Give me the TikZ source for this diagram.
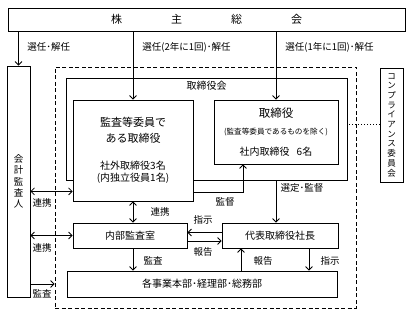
\documentclass[tikz,border=0pt]{standalone}
\usepackage{fontspec}
\setmainfont{Noto Sans CJK JP}
\usetikzlibrary{arrows.meta}

\begin{document}
\begin{tikzpicture}[x=1pt,y=-1pt,
    >={Straight Barb[length=3.5pt,width=7pt]},
    line width=0.8pt,
    box/.style={draw, fill=white, inner sep=0pt, align=center,
        font=\fontsize{10}{12}\selectfont},
    lbl/.style={inner sep=0pt, font=\fontsize{9.5}{11}\selectfont},
    vtext/.style={box, font=\fontsize{9.5}{11.3}\selectfont}]
    \useasboundingbox (0,0) rectangle (412,315);

    % Boxes
    \node[box, minimum width=397pt, minimum height=23pt,
        font=\fontsize{11}{13}\selectfont] (soukai) at (206.5,19.5)
        {株\hspace{49pt}主\hspace{49pt}総\hspace{49pt}会};
    \node[vtext, minimum width=23pt, minimum height=231pt] (kaikei) at (18.5,181.5)
        {会\\計\\監\\査\\人};
    \node[draw, dashed, dash pattern=on 4pt off 2.5pt, minimum width=301pt,
        minimum height=241pt] (kaisha) at (205.5,187.5) {};
    \node[box, minimum width=281pt, minimum height=102pt] (torikai) at (206.5,129) {};
    \node[lbl, font=\fontsize{10}{12}\selectfont] (torikaiTitle) at (206.5,86) {取締役会};
    \node[box, minimum width=120pt, minimum height=101pt] (kansa) at (133,150.5)
        {\fontsize{11}{13}\selectfont 監査等委員で\\[4pt]
         \fontsize{11}{13}\selectfont ある取締役\\[15pt]
         社外取締役3名\\
         (内独立役員1名)};
    \node[box, minimum width=124pt, minimum height=64pt] (torishimari) at (276,132)
        {\fontsize{11.5}{13}\selectfont 取締役\\[5pt]
         \fontsize{7.6}{9}\selectfont (監査等委員であるものを除く)\\[9pt]
         社内取締役\hspace{7pt}6名};
    \node[vtext, minimum width=23pt, minimum height=114pt,
        font=\fontsize{8.5}{9.7}\selectfont] (compliance) at (391.5,125)
        {コ\\ン\\プ\\ラ\\イ\\ア\\ン\\ス\\委\\員\\会};
    \node[box, minimum width=114pt, minimum height=25pt] (naibu) at (130,235.5) {内部監査室};
    \node[box, minimum width=116pt, minimum height=25pt] (daihyo) at (280,235.5) {代表取締役社長};
    \node[box, minimum width=270pt, minimum height=26pt] (jigyo) at (202,284)
        {各事業本部･経理部･総務部};

    % Election
    \draw[->] (soukai.south -| kaikei.north) -- (kaikei.north);
    \draw[->] (soukai.south -| kansa.north) -- (kansa.north);
    \draw[->] (soukai.south -| torishimari.north) -- (torishimari.north);
    \node[lbl, anchor=west] (senninA) at (27,47) {選任･解任};
    \node[lbl, anchor=west] (senninB) at (142,47) {選任(2年に1回)･解任};
    \node[lbl, anchor=west] (senninC) at (285,47) {選任(1年に1回)･解任};

    % Compliance committee
    \draw[dotted, line width=1pt] (compliance.west) -- (compliance.west -| torikai.east);

    % Accounting auditor
    \coordinate (renkeiA) at ([yshift=10pt]kansa.south west);
    \draw[<->] (renkeiA) -- (renkeiA -| kaikei.east);
    \draw[<->] (naibu.west) -- (naibu.west -| kaikei.east);
    \draw[->] (kaikei.east |- jigyo.west) -- (jigyo.west -| kaisha.west);
    \node[lbl] (renkeiLblA) at (42,203) {連携};
    \node[lbl] (renkeiLblB) at (42,248) {連携};
    \node[lbl] (kansaLblA) at (42,294) {監査};

    % Supervision
    \coordinate (kantokuA) at ([yshift=9pt]kansa.south east);
    \coordinate (kantokuB) at ([xshift=-33pt]torishimari.south);
    \draw[->] (kantokuA) -| (kantokuB);
    \node[lbl] (kantokuLbl) at (225,202) {監督};
    \draw[<->] (kansa.south) -- (kansa.south |- naibu.north);
    \node[lbl] (renkeiLblC) at (160,212) {連携};
    \draw[->] (torishimari.south |- torikai.south) -- (torishimari.south |- daihyo.north);
    \node[lbl] (senteiLbl) at (302,188) {選定･監督};

    % Instructions and reports
    \draw[->] ([yshift=3pt]daihyo.west) -- ([yshift=3pt]naibu.east);
    \draw[->] ([yshift=-5.5pt]naibu.east) -- ([yshift=-5.5pt]daihyo.west);
    \node[lbl] (shijiLblA) at (203,220) {指示};
    \node[lbl] (hokokuLblA) at (203,252) {報告};
    \draw[->] (kansa.south |- naibu.south) -- (kansa.south |- jigyo.north);
    \node[lbl] (kansaLblB) at (153,261) {監査};
    \coordinate (hokoku) at ([xshift=-39pt]daihyo.south);
    \coordinate (shiji) at ([xshift=29pt]daihyo.south);
    \draw[->] (hokoku |- jigyo.north) -- (hokoku);
    \draw[->] (shiji) -- (shiji |- jigyo.north);
    \node[lbl] (hokokuLblB) at (263,261) {報告};
    \node[lbl] (shijiLblB) at (330,261) {指示};
\end{tikzpicture}
\end{document}
